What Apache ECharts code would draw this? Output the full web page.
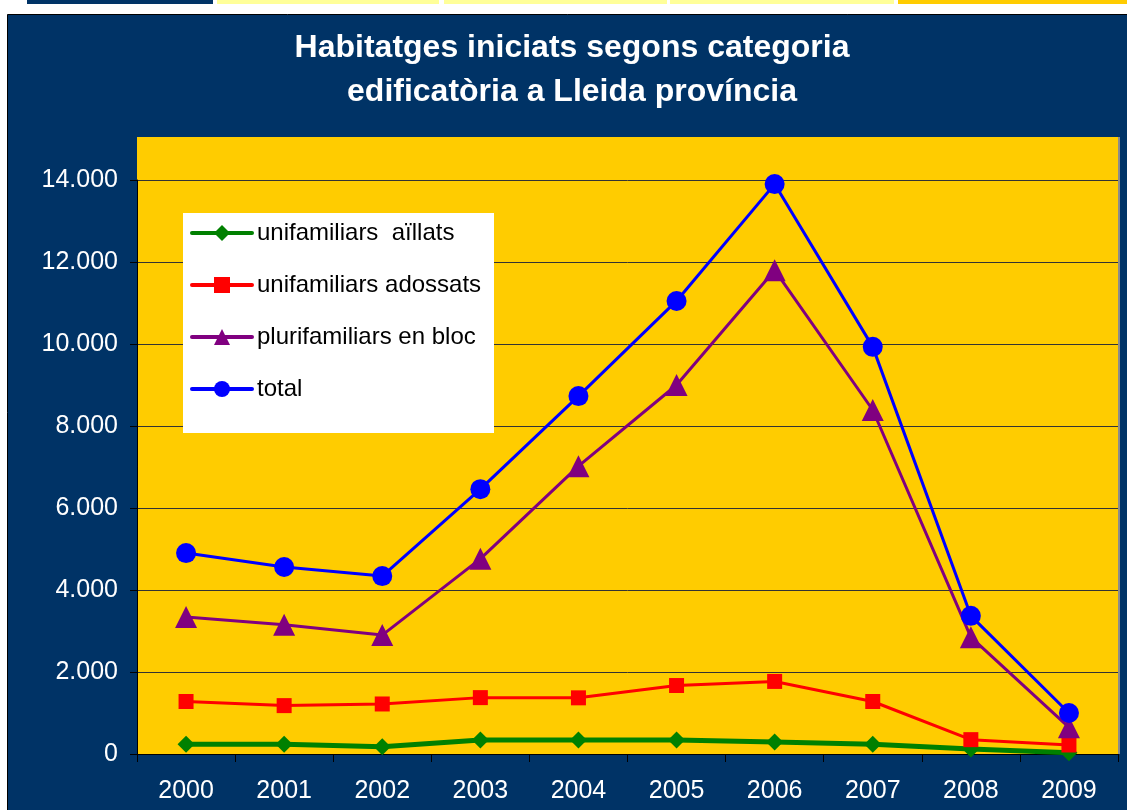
<!DOCTYPE html>
<html>
<head>
<meta charset="utf-8">
<script src="https://cdn.jsdelivr.net/npm/echarts@6/dist/echarts.min.js"></script>
<style>
  html, body { margin: 0; padding: 0; background: #ffffff; }
  #chart { width: 1127px; height: 810px; }
</style>
</head>
<body>
<div id="chart"></div>
<script>
// dades llegides del gràfic
let years = ['2000', '2001', '2002', '2003', '2004', '2005', '2006', '2007', '2008', '2009'];
let aillats = [240, 240, 175, 340, 340, 340, 290, 240, 120, 30];
let adossats = [1280, 1180, 1220, 1375, 1370, 1670, 1770, 1280, 350, 220];
let plurifamiliars = [3340, 3150, 2900, 4760, 7020, 9000, 11800, 8390, 2850, 650];
let total = [4900, 4560, 4340, 6460, 8730, 11050, 13900, 9930, 3370, 1000];

const FONT = '"Liberation Sans", Arial, sans-serif';
const NAVY = '#003366';

let chart = echarts.init(document.getElementById('chart'));

let option = {
  backgroundColor: '#ffffff',
  animation: false,
  textStyle: { fontFamily: FONT },
  title: {
    text: 'Habitatges iniciats segons categoria\nedificatòria a Lleida província',
    left: 572,
    top: 26,
    textAlign: 'center',
    padding: 0,
    textStyle: {
      color: '#ffffff',
      fontSize: 32,
      fontWeight: 'bold',
      fontFamily: FONT,
      lineHeight: 44
    }
  },
  graphic: [
    // franja superior
    { type: 'rect', z: -10, shape: { x: 27, y: 0, width: 186, height: 4 }, style: { fill: NAVY } },
    { type: 'rect', z: -10, shape: { x: 217, y: 0, width: 222, height: 4 }, style: { fill: '#ffff99' } },
    { type: 'rect', z: -10, shape: { x: 444, y: 0, width: 223, height: 4 }, style: { fill: '#ffff99' } },
    { type: 'rect', z: -10, shape: { x: 670, y: 0, width: 224, height: 4 }, style: { fill: '#ffff99' } },
    { type: 'rect', z: -10, shape: { x: 898, y: 0, width: 229, height: 4 }, style: { fill: '#ffcc00' } },
    // panell blau
    { type: 'rect', z: -10, shape: { x: 7.5, y: 14.5, width: 1125, height: 800 }, style: { fill: NAVY, stroke: '#000000', lineWidth: 1 } },
    // àrea del gràfic
    { type: 'rect', z: -5, shape: { x: 137, y: 137, width: 981, height: 617 }, style: { fill: '#ffcc00' } },
    { type: 'line', z: -5, shape: { x1: 1119, y1: 137, x2: 1119, y2: 754 }, style: { stroke: '#8c8c8c', lineWidth: 2 } },
    // caixa de la llegenda
    { type: 'rect', z: 5, shape: { x: 183, y: 213, width: 311, height: 220 }, style: { fill: '#ffffff' } }
  ],
  legend: {
    orient: 'vertical',
    left: 190,
    top: 221,
    z: 10,
    itemWidth: 60,
    itemHeight: 20,
    itemGap: 28,
    padding: 0,
    lineStyle: { width: 4, cap: 'round' },
    textStyle: { color: '#000000', fontSize: 24, fontFamily: FONT, lineHeight: 24 },
    data: ['unifamiliars  aïllats', 'unifamiliars adossats', 'plurifamiliars en bloc', 'total']
  },
  grid: {
    left: 137,
    right: 9,
    top: 180,
    bottom: 56,
    containLabel: false
  },
  xAxis: {
    type: 'category',
    data: years,
    boundaryGap: true,
    axisLine: { show: true, lineStyle: { color: '#000000', width: 1 } },
    axisTick: { show: true, length: 8, lineStyle: { color: '#000000' } },
    axisLabel: { color: '#ffffff', fontSize: 25, fontFamily: FONT, margin: 25 },
    splitLine: { show: false }
  },
  yAxis: {
    type: 'value',
    min: 0,
    max: 14000,
    interval: 2000,
    axisLine: { show: true, lineStyle: { color: '#000000', width: 1 } },
    axisTick: { show: true, length: 7, lineStyle: { color: '#000000' } },
    axisLabel: {
      color: '#ffffff',
      fontSize: 25,
      fontFamily: FONT,
      margin: 19,
      formatter: function (v) { return v === 0 ? '0' : String(v).replace(/\B(?=(\d{3})+(?!\d))/g, '.'); }
    },
    splitLine: { show: true, lineStyle: { color: '#333333', width: 1 } }
  },
  series: [
    {
      name: 'unifamiliars  aïllats',
      type: 'line',
      data: aillats,
      symbol: 'diamond',
      symbolSize: 17,
      lineStyle: { color: '#008000', width: 5 },
      itemStyle: { color: '#008000' }
    },
    {
      name: 'unifamiliars adossats',
      type: 'line',
      data: adossats,
      symbol: 'rect',
      symbolSize: 15,
      lineStyle: { color: '#ff0000', width: 3 },
      itemStyle: { color: '#ff0000' }
    },
    {
      name: 'plurifamiliars en bloc',
      type: 'line',
      data: plurifamiliars,
      symbol: 'triangle',
      symbolSize: 22,
      lineStyle: { color: '#800080', width: 3 },
      itemStyle: { color: '#800080' }
    },
    {
      name: 'total',
      type: 'line',
      data: total,
      symbol: 'circle',
      symbolSize: 20,
      lineStyle: { color: '#0000ff', width: 3 },
      itemStyle: { color: '#0000ff' }
    }
  ]
};

chart.setOption(option);
</script>
</body>
</html>
